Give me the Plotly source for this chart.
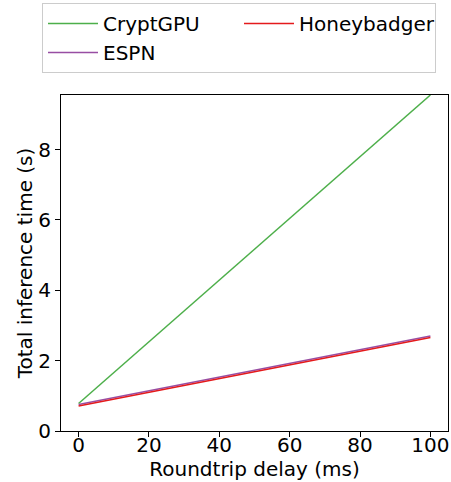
import plotly.graph_objects as go

delay_ms = [0, 20, 40, 60, 80, 100]
cryptgpu = [0.78, 2.53, 4.29, 6.04, 7.80, 9.55]
espn = [0.75, 1.14, 1.53, 1.92, 2.31, 2.70]
honeybadger = [0.71, 1.10, 1.49, 1.88, 2.27, 2.66]

x_ticks = [0, 20, 40, 60, 80, 100]
y_ticks = [0, 2, 4, 6, 8]

FONT = "DejaVu Sans"

fig = go.Figure()
fig.add_trace(go.Scatter(x=delay_ms, y=cryptgpu, mode="lines", name="CryptGPU",
                         line=dict(color="#4daf4a", width=1.5), legendrank=1))
fig.add_trace(go.Scatter(x=delay_ms, y=espn, mode="lines", name="ESPN",
                         line=dict(color="#984ea3", width=1.5), legendrank=3))
fig.add_trace(go.Scatter(x=delay_ms, y=honeybadger, mode="lines", name="Honeybadger",
                         line=dict(color="#e41a1c", width=1.5), legendrank=2))

axis_common = dict(showline=True, linecolor="black", linewidth=1, mirror=True,
                   ticks="outside", ticklen=5, tickwidth=1, tickcolor="black",
                   showgrid=False, zeroline=False, automargin=False,
                   tickfont=dict(family=FONT, size=20, color="black"))

fig.update_xaxes(range=[-5, 105], tickvals=x_ticks, ticklabelstandoff=-9,
                 title=dict(text="Roundtrip delay (ms)", font=dict(family=FONT, size=20, color="black"), standoff=2),
                 **axis_common)
fig.update_yaxes(range=[0, 9.55], tickvals=y_ticks,
                 title=dict(text="Total inference time (s)", font=dict(family=FONT, size=20, color="black"), standoff=0),
                 **axis_common)

L, R, T, B = 61, 3, 95, 51
W, H = 451, 482
pw, ph = W - L - R, H - T - B

fig.update_layout(
    width=W, height=H,
    margin=dict(l=L, r=R, t=T, b=B, autoexpand=False),
    plot_bgcolor="white", paper_bgcolor="white",
    font=dict(family=FONT, size=20, color="black"),
    legend=dict(orientation="h", xref="paper", yref="paper",
                x=(42 - L) / pw, y=(H - B - 3) / ph, xanchor="left", yanchor="top",
                entrywidth=131, itemwidth=50, bordercolor="#cccccc", borderwidth=1,
                bgcolor="white", font=dict(family=FONT, size=20, color="black"),
                traceorder="normal"),
)

fig.write_html("out.html")
